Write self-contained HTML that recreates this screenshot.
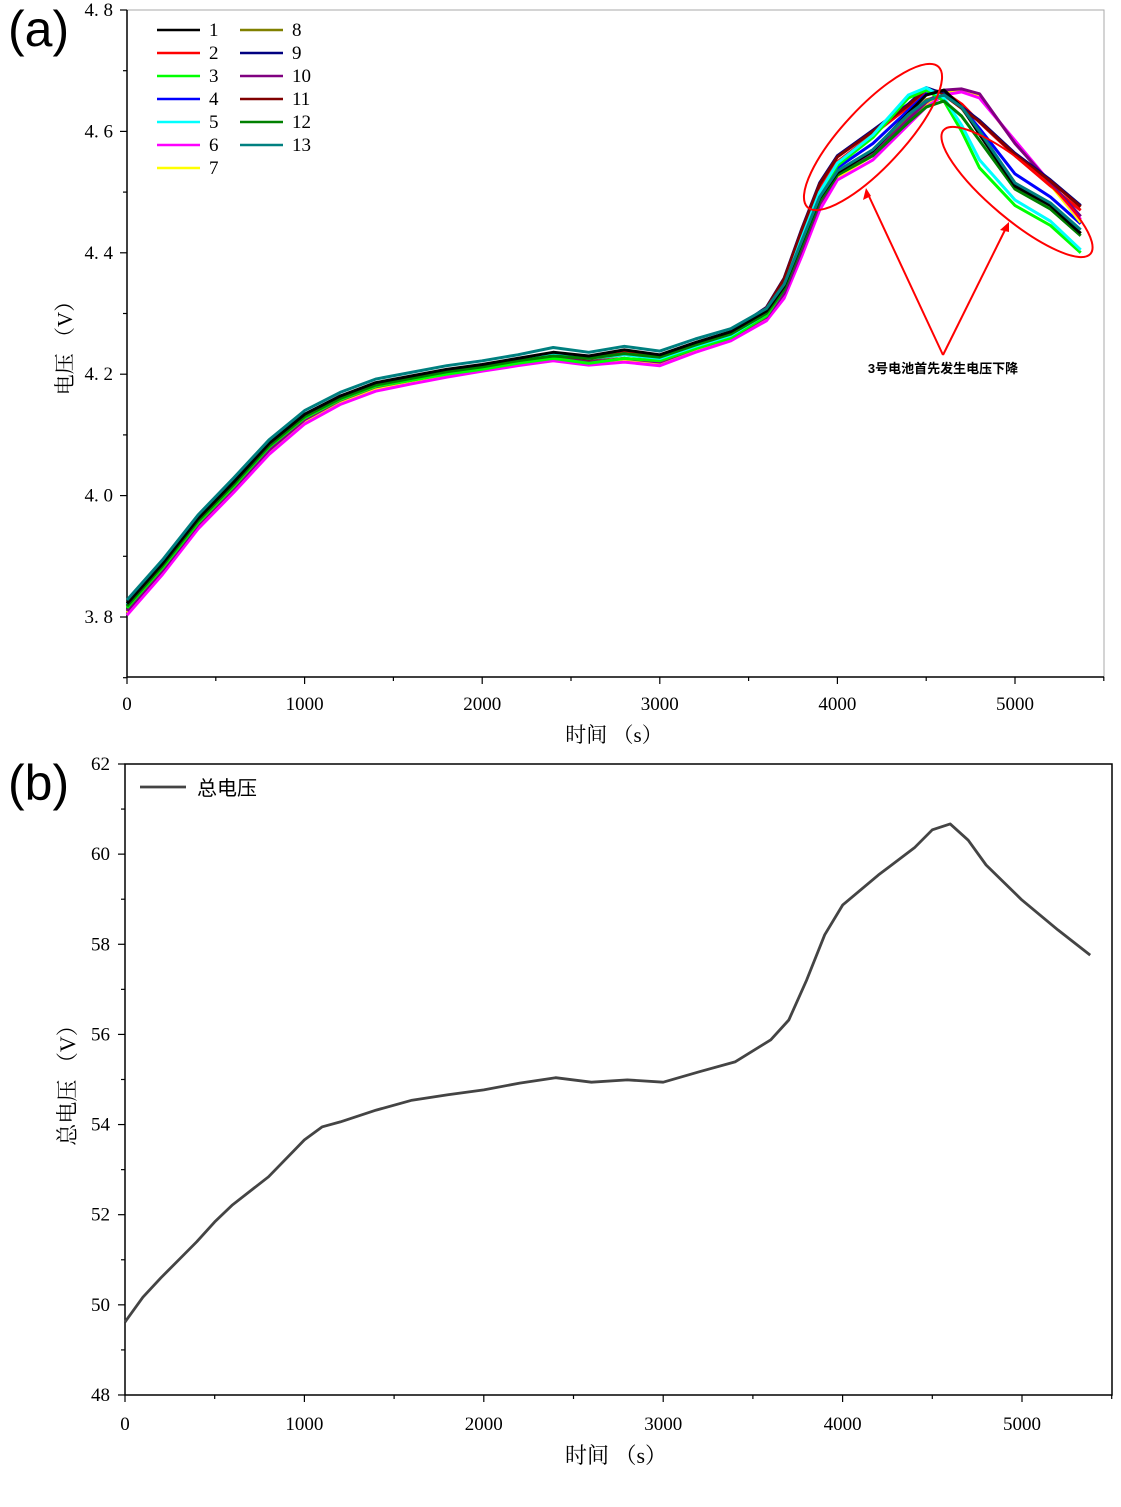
<!DOCTYPE html>
<html><head><meta charset="utf-8"><style>
body{margin:0;background:#fff;width:1121px;height:1502px;overflow:hidden}
svg text{font-family:"Liberation Serif","Noto Serif CJK SC",serif}
</style></head><body>
<svg id="s" width="1121" height="1502" xmlns="http://www.w3.org/2000/svg">
<text x="8" y="46" font-size="50" style="font-family:'Liberation Sans',sans-serif">(a)</text>
<text x="8" y="800" font-size="50" style="font-family:'Liberation Sans',sans-serif">(b)</text>
<g id="ga"></g>
<g id="gb"></g>
</svg>
<script>
const T=[0,200,400,600,800,1000,1200,1400,1600,1800,2000,2200,2400,2600,2800,3000,3200,3400,3600,3700,3800,3900,4000,4200,4400,4500,4600,4700,4800,5000,5200,5370];
const s1=[3.822,3.888,3.962,4.022,4.086,4.134,4.164,4.186,4.197,4.208,4.216,4.226,4.236,4.230,4.240,4.232,4.252,4.270,4.304,4.345,4.418,4.490,4.532,4.568,4.630,4.660,4.668,4.640,4.595,4.510,4.478,4.432];
const s2=[3.820,3.886,3.960,4.020,4.084,4.132,4.162,4.184,4.195,4.206,4.214,4.224,4.232,4.226,4.236,4.228,4.250,4.268,4.304,4.350,4.430,4.505,4.550,4.595,4.640,4.668,4.665,4.645,4.615,4.560,4.510,4.470];
const s3=[3.815,3.881,3.955,4.015,4.080,4.128,4.158,4.180,4.190,4.200,4.208,4.218,4.226,4.218,4.226,4.222,4.242,4.260,4.296,4.340,4.420,4.496,4.544,4.590,4.655,4.668,4.650,4.600,4.540,4.478,4.445,4.400];
const s4=[3.819,3.885,3.959,4.019,4.083,4.131,4.161,4.183,4.194,4.205,4.213,4.223,4.231,4.225,4.233,4.227,4.249,4.267,4.302,4.346,4.424,4.498,4.540,4.580,4.635,4.662,4.664,4.640,4.605,4.530,4.492,4.448];
const s5=[3.820,3.886,3.960,4.020,4.084,4.132,4.162,4.184,4.195,4.206,4.214,4.224,4.232,4.226,4.232,4.226,4.246,4.264,4.300,4.345,4.425,4.500,4.548,4.594,4.660,4.672,4.655,4.610,4.553,4.487,4.452,4.405];
const s6=[3.803,3.870,3.945,4.005,4.068,4.118,4.150,4.172,4.184,4.195,4.205,4.214,4.222,4.215,4.220,4.214,4.236,4.255,4.288,4.325,4.395,4.470,4.520,4.553,4.611,4.640,4.660,4.665,4.655,4.585,4.515,4.455];
const s7=[3.807,3.874,3.949,4.009,4.072,4.122,4.154,4.176,4.188,4.199,4.209,4.218,4.226,4.219,4.224,4.218,4.240,4.259,4.292,4.330,4.400,4.475,4.525,4.560,4.618,4.645,4.665,4.668,4.658,4.582,4.512,4.450];
const s8=[3.818,3.884,3.958,4.018,4.082,4.130,4.160,4.182,4.193,4.204,4.212,4.222,4.230,4.224,4.232,4.226,4.248,4.266,4.300,4.342,4.414,4.488,4.530,4.565,4.625,4.652,4.660,4.638,4.598,4.515,4.478,4.432];
const s9=[3.820,3.886,3.960,4.022,4.086,4.134,4.164,4.184,4.195,4.206,4.214,4.224,4.232,4.226,4.234,4.226,4.250,4.270,4.310,4.358,4.440,4.515,4.560,4.602,4.645,4.672,4.662,4.640,4.618,4.564,4.520,4.478];
const s10=[3.810,3.877,3.952,4.012,4.075,4.125,4.157,4.179,4.190,4.201,4.210,4.220,4.228,4.220,4.226,4.220,4.242,4.260,4.294,4.333,4.405,4.480,4.528,4.562,4.620,4.648,4.668,4.670,4.662,4.580,4.515,4.460];
const s11=[3.819,3.885,3.959,4.021,4.085,4.133,4.163,4.183,4.194,4.205,4.213,4.223,4.231,4.225,4.233,4.225,4.249,4.269,4.309,4.357,4.438,4.513,4.558,4.600,4.643,4.670,4.660,4.638,4.616,4.562,4.518,4.476];
const s12=[3.818,3.884,3.958,4.018,4.082,4.130,4.160,4.182,4.193,4.204,4.212,4.222,4.230,4.226,4.234,4.228,4.248,4.266,4.300,4.340,4.412,4.485,4.528,4.560,4.615,4.640,4.650,4.625,4.585,4.505,4.472,4.428];
const s13=[3.828,3.894,3.968,4.029,4.092,4.140,4.170,4.192,4.203,4.214,4.222,4.232,4.244,4.236,4.246,4.238,4.258,4.275,4.308,4.348,4.420,4.492,4.535,4.570,4.628,4.650,4.660,4.640,4.600,4.515,4.482,4.438];
const seriesA=[s1,s2,s3,s4,s5,s6,s7,s8,s9,s10,s11,s12,s13];
const seriesNames=["1","2","3","4","5","6","7","8","9","10","11","12","13"];
const colors=["#000000","#ff0000","#00ff00","#0000ff","#00ffff","#ff00ff","#ffff00","#808000","#000080","#800080","#800000","#008000","#008080"];
const drawOrder=[1,3,7,6,5,9,8,10,2,4,11,0,12];
const xTicksA=[0,1000,2000,3000,4000,5000];
const yTicksA=[3.8,4.0,4.2,4.4,4.6,4.8];
const TB=[0,100,200,300,400,500,600,800,1000,1100,1200,1400,1600,1800,2000,2200,2400,2600,2800,3000,3200,3400,3600,3700,3800,3900,4000,4200,4400,4500,4600,4700,4800,5000,5200,5380];
const VB=[49.62,50.17,50.6,51.0,51.4,51.84,52.22,52.84,53.66,53.95,54.06,54.32,54.54,54.66,54.77,54.92,55.04,54.94,54.99,54.94,55.17,55.39,55.88,56.32,57.21,58.21,58.87,59.54,60.14,60.54,60.67,60.31,59.76,58.98,58.32,57.76];
const xTicksB=[0,1000,2000,3000,4000,5000];
const yTicksB=[48,50,52,54,56,58,60,62];

const NS="http://www.w3.org/2000/svg";
function mk(p,tag,at){const e=document.createElementNS(NS,tag);for(const k in at)e.setAttribute(k,at[k]);p.appendChild(e);return e;}
function fmt(v,d){return v.toFixed(d).replace('.','. ');}

// ---- chart A
const ga=document.getElementById('ga');
const xa=t=>127+t*0.1776, ya=v=>10+(4.8-v)*607;
mk(ga,'rect',{x:127,y:10,width:977,height:667,fill:'none',stroke:'#aaa','stroke-width':1});
mk(ga,'line',{x1:127,y1:10,x2:127,y2:677,stroke:'#000','stroke-width':1.5});
mk(ga,'line',{x1:127,y1:677,x2:1104,y2:677,stroke:'#000','stroke-width':1.5});
for(let v=3.7;v<4.85;v+=0.1){const y=ya(v);const maj=Math.abs(Math.round(v*10)%2)==0;
 mk(ga,'line',{x1:127,y1:y,x2:127-(maj?7:4),y2:y,stroke:'#000','stroke-width':1.2});}
yTicksA.forEach(v=>{const t=mk(ga,'text',{x:113,y:ya(v)+6,'font-size':19,'text-anchor':'end'});t.textContent=fmt(v,1);
 
 });
for(let t=0;t<=5500;t+=500){const x=xa(t);mk(ga,'line',{x1:x,y1:677,x2:x,y2:677+(t%1000==0?7:4),stroke:'#000','stroke-width':1.2});}
xTicksA.forEach(t=>{const e=mk(ga,'text',{x:xa(t),y:710,'font-size':19,'text-anchor':'middle'});e.textContent=t;
 
 });
let e=mk(ga,'text',{x:614,y:742,'font-size':21,'text-anchor':'middle'});e.textContent='时间 （s）';


e=mk(ga,'text',{x:0,y:0,'font-size':21,'text-anchor':'middle',transform:'translate(72,343) rotate(-90)'});e.textContent='电压 （V）';


drawOrder.forEach(i=>{const d=seriesA[i].map((v,j)=>(j?'L':'M')+xa(T[j]).toFixed(1)+','+ya(v).toFixed(1)).join('');
 const p=mk(ga,'path',{d:d,fill:'none',stroke:colors[i],'stroke-width':3,'stroke-linejoin':'round'});
 
 });
seriesNames.forEach((n,i)=>{const col=i<7?0:1,row=i<7?i:i-7;const x=157+col*83,y=30+row*23;
 const g=mk(ga,'g',{});
 
 
 mk(g,'line',{x1:x,y1:y,x2:x+43,y2:y,stroke:colors[i],'stroke-width':2.5});
 const t=mk(g,'text',{x:x+52,y:y+6,'font-size':19});t.textContent=n;});
// annotations
mk(ga,'ellipse',{cx:873,cy:137,rx:96,ry:30,transform:'rotate(-47 873 137)',fill:'none',stroke:'#f00','stroke-width':2});
mk(ga,'ellipse',{cx:1017,cy:192,rx:96,ry:27,transform:'rotate(40 1017 192)',fill:'none',stroke:'#f00','stroke-width':2});
mk(ga,'line',{x1:943,y1:355,x2:867,y2:192,stroke:'#f00','stroke-width':2});
mk(ga,'line',{x1:943,y1:355,x2:1007,y2:226,stroke:'#f00','stroke-width':2});
mk(ga,'path',{d:'M866,188 L863,200 L871,196 Z',fill:'#f00'});
mk(ga,'path',{d:'M1009,222 L1000,230 L1009,232 Z',fill:'#f00'});
e=mk(ga,'text',{x:943,y:373,'font-size':13,'font-weight':'bold','text-anchor':'middle',style:"font-family:'Liberation Sans','Noto Sans CJK SC',sans-serif"});e.textContent='3号电池首先发生电压下降';



// ---- chart B
const gb=document.getElementById('gb');
const xb=t=>125+t*0.1794, yb=v=>764+(62-v)*45.07;
mk(gb,'rect',{x:125,y:764,width:987,height:631,fill:'none',stroke:'#000','stroke-width':1.5});
for(let v=48;v<=62;v+=1){const y=yb(v);mk(gb,'line',{x1:125,y1:y,x2:125-(v%2==0?7:4),y2:y,stroke:'#000','stroke-width':1.2});}
yTicksB.forEach(v=>{const t=mk(gb,'text',{x:110,y:yb(v)+6,'font-size':19,'text-anchor':'end'});t.textContent=v;
 
 });
for(let t=0;t<=5500;t+=500){const x=xb(t);mk(gb,'line',{x1:x,y1:1395,x2:x,y2:1395+(t%1000==0?7:4),stroke:'#000','stroke-width':1.2});}
xTicksB.forEach(t=>{const e=mk(gb,'text',{x:xb(t),y:1430,'font-size':19,'text-anchor':'middle'});e.textContent=t;
 
 });
e=mk(gb,'text',{x:616,y:1463,'font-size':22,'text-anchor':'middle'});e.textContent='时间 （s）';


e=mk(gb,'text',{x:0,y:0,'font-size':22,'text-anchor':'middle',transform:'translate(75,1080) rotate(-90)'});e.textContent='总电压 （V）';


const pb=mk(gb,'path',{d:VB.map((v,j)=>(j?'L':'M')+xb(TB[j]).toFixed(1)+','+yb(v).toFixed(1)).join(''),fill:'none',stroke:'#444','stroke-width':2.8,'stroke-linejoin':'round'});


const lg=mk(gb,'g',{});


mk(lg,'line',{x1:140,y1:787,x2:186,y2:787,stroke:'#444','stroke-width':2.8});
e=mk(lg,'text',{x:197,y:795,'font-size':20,style:"font-family:'Liberation Sans','Noto Sans CJK SC',sans-serif"});e.textContent='总电压';
</script>
</body></html>
